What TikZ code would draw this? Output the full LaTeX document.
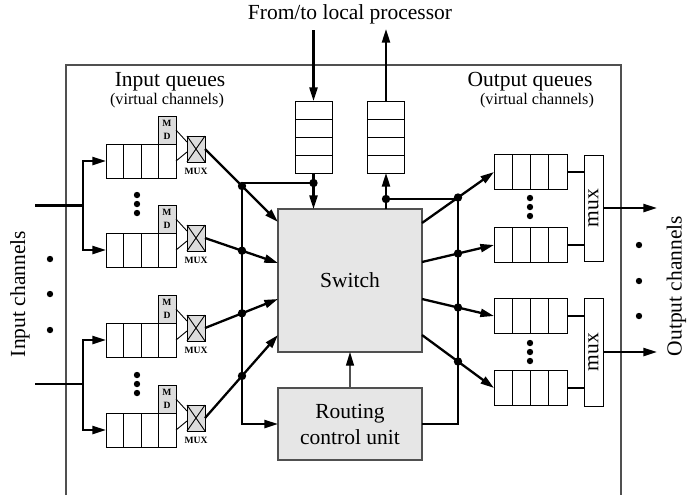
\documentclass[tikz,border=0pt]{standalone}
\usepackage{fontspec}
\setmainfont{Liberation Serif}
\usetikzlibrary{arrows.meta,calc,intersections}
\newcommand\mainsz{\fontsize{10.75}{13}\selectfont}
\newcommand\subsz{\fontsize{8.1}{10}\selectfont}
\newcommand\tinysz{\fontsize{4.8}{6.5}\selectfont\bfseries}
\definecolor{boxgray}{HTML}{E6E6E6}
\definecolor{mdgray}{HTML}{DCDCDC}
\definecolor{edgegray}{HTML}{505050}
\begin{document}
\begin{tikzpicture}[x=0.5pt,y=-0.5pt,
  tip/.style={-{Triangle[length=6.8pt,width=4pt]}},
  bus/.style={line width=1.15pt},
  thinline/.style={line width=0.45pt},
  queue/.style={draw, line width=0.5pt, minimum width=35pt, minimum height=17pt, inner sep=0pt, outer sep=0pt},
  oqueue/.style={queue, minimum width=36.5pt, minimum height=17.5pt},
  fifo/.style={draw, line width=0.5pt, minimum width=18.5pt, minimum height=36pt, inner sep=0pt, outer sep=0pt},
  mdbox/.style={draw, line width=0.5pt, fill=mdgray, minimum width=9pt, minimum height=14pt, inner sep=0pt, outer sep=0pt, align=center, font=\tinysz},
  muxbox/.style={draw, line width=0.5pt, fill=mdgray, minimum width=9pt, minimum height=13pt, inner sep=0pt, outer sep=0pt},
  omux/.style={draw, line width=0.5pt, minimum width=9.5pt, inner sep=0pt, outer sep=0pt},
  bigbox/.style={draw=edgegray, line width=0.6pt, fill=boxgray, minimum width=72pt, inner sep=0pt, outer sep=0pt, font=\mainsz, align=center},
  lbl/.style={font=\mainsz, inner sep=0pt},
  sublbl/.style={font=\subsz, inner sep=0pt},
  muxlbl/.style={font=\tinysz, inner sep=0pt}
]
\useasboundingbox (0,0) rectangle (687,495);

% outer router border
\coordinate (bl) at (66,495);
\coordinate (tl) at (66,65);
\coordinate (tr) at (621,65);
\coordinate (br) at (621,495);
\draw[edgegray, line width=0.6pt] (bl) -- (tl) -- (tr) -- (br);

% texts
\node[lbl] (proc) at (350,14.5) {From/to local processor};
\node[lbl, rotate=90] (inch) at (20,294) {Input channels};
\node[lbl, rotate=90] (outch) at (676.5,286) {Output channels};
\node[lbl] (iqt) at (170,82) {Input queues};
\node[sublbl] (iqs) at (167,101) {(virtual channels)};
\node[lbl] (oqt) at (530,82) {Output queues};
\node[sublbl] (oqs) at (537,101) {(virtual channels)};

% switch and routing unit
\node[bigbox, minimum height=71.5pt] (sw) at (350,280.5) {Switch};
\node[bigbox, minimum height=36pt] (rcu) at (350,424) {Routing\\control unit};
\draw[line width=0.6pt, edgegray, -{Triangle[length=6.8pt,width=4pt,color=black]}] (rcu.north) -- (sw.south);

% local processor fifos
\node[fifo] (fin) at (313.5,137) {};
\node[fifo] (fout) at (386,137) {};
\foreach \f in {fin,fout}{
  \foreach \k in {0.25,0.5,0.75}{
    \draw[thinline] ($(\f.north west)!\k!(\f.south west)$) -- ($(\f.north east)!\k!(\f.south east)$);
  }
}
\coordinate (pin) at (313.5,30);
\coordinate (pout) at (386,29);
\draw[bus,tip] (pin) -- (fin.north);
\draw[bus,tip] (fout.north) -- (pout);

% input queues
\foreach \i/\y in {1/161,2/250,3/340,4/430}{
  \node[queue] (qi\i) at (141,\y) {};
  \foreach \k in {0.25,0.5,0.75}{
    \draw[thinline] ($(qi\i.north west)!\k!(qi\i.north east)$) -- ($(qi\i.south west)!\k!(qi\i.south east)$);
  }
  \node[mdbox, anchor=south east] (md\i) at (qi\i.north east) {M\\D};
  \node[muxbox] (mx\i) at (196,\y-12) {};
  \draw[thinline] (mx\i.north west) -- (mx\i.south east);
  \draw[thinline] (mx\i.north east) -- (mx\i.south west);
  \node[muxlbl] (mxl\i) at (196,\y+10) {MUX};
  \draw[thinline] (md\i.east) -- ($(mx\i.west)+(0,-7)$);
  \draw[thinline] (qi\i.east) -- ($(mx\i.west)+(0,3)$);
}

% dots between input queues
\foreach \y in {195,204,213,375,384,393}{
  \fill (137,\y) circle[radius=1.6pt];
}
% input channel dots
\foreach \y in {259,294,330}{
  \fill (50,\y) circle[radius=1.6pt];
}

% input channels
\coordinate (ii1) at (35,205.5);
\coordinate (ij1) at (83,205.5);
\coordinate (ii2) at (35,384);
\coordinate (ij2) at (83,384);
\draw[bus] (ii1) -- (ij1);
\draw[bus,tip] (ij1) |- (qi1.west);
\draw[bus,tip] (ij1) |- (qi2.west);
\draw[bus] (ii2) -- (ij2);
\draw[bus,tip] (ij2) |- (qi3.west);
\draw[bus,tip] (ij2) |- (qi4.west);

% left bus
\coordinate (lt) at (242,183);
\coordinate (lb) at (242,424);
\coordinate (fd) at ($(fin.south)+(0,10)$);
\draw[bus,tip] (fin.south) -- (sw.north -| fin.south);
\draw[bus,tip] (fd) -- (lt) -- (lb) -- (rcu.west);
\fill (fd) circle[radius=2.1pt];
\path[name path=lbus] (242,150) -- (242,450);

% switch input points
\coordinate (swl1) at (278,222);
\coordinate (swl2) at (278,263);
\coordinate (swl3) at (278,299);
\coordinate (swl4) at (278,335);
\foreach \i in {1,2,3,4}{
  \draw[bus,tip,name path=sl\i] (mx\i.east) -- (swl\i);
  \path[name intersections={of=lbus and sl\i, by=dl\i}];
  \fill (dl\i) circle[radius=2.1pt];
}

% output queues
\foreach \i/\y in {1/172,2/245,3/316,4/388}{
  \node[oqueue] (qo\i) at (530.5,\y) {};
  \foreach \k in {0.25,0.5,0.75}{
    \draw[thinline] ($(qo\i.north west)!\k!(qo\i.north east)$) -- ($(qo\i.south west)!\k!(qo\i.south east)$);
  }
}
\node[omux, minimum height=53pt] (om1) at (593.5,208) {};
\node[omux, minimum height=54pt] (om2) at (593.5,352) {};
\node[lbl, rotate=90] (om1t) at (om1.center) {mux};
\node[lbl, rotate=90] (om2t) at (om2.center) {mux};
\draw[bus] (qo1.east) -- (qo1.east -| om1.west);
\draw[bus] (qo2.east) -- (qo2.east -| om1.west);
\draw[bus] (qo3.east) -- (qo3.east -| om2.west);
\draw[bus] (qo4.east) -- (qo4.east -| om2.west);
\coordinate (oa1) at (657,208);
\coordinate (oa2) at (657,352);
\draw[bus,tip] (om1.east) -- (oa1);
\draw[bus,tip] (om2.east) -- (oa2);

% dots between output queues
\foreach \y in {198,207,216,343,352,361}{
  \fill (530,\y) circle[radius=1.6pt];
}
% output channel dots
\foreach \y in {245,281,316}{
  \fill (639,\y) circle[radius=1.6pt];
}

% right bus
\coordinate (rt) at (458,199);
\coordinate (rb) at (458,424);
\coordinate (od) at ($(fout.south)+(0,26)$);
\draw[bus,tip] (sw.north -| fout.south) -- (fout.south);
\draw[bus] (od) -- (rt) -- (rb) -- (rcu.east);
\fill (od) circle[radius=2.1pt];
\path[name path=rbus] (458,150) -- (458,450);

\coordinate (swr1) at (422,223);
\coordinate (swr2) at (422,262);
\coordinate (swr3) at (422,299);
\coordinate (swr4) at (422,335);
\foreach \i in {1,2,3,4}{
  \draw[bus,tip,name path=sr\i] (swr\i) -- (qo\i.west);
  \path[name intersections={of=rbus and sr\i, by=dr\i}];
  \fill (dr\i) circle[radius=2.1pt];
}
\end{tikzpicture}
\end{document}
